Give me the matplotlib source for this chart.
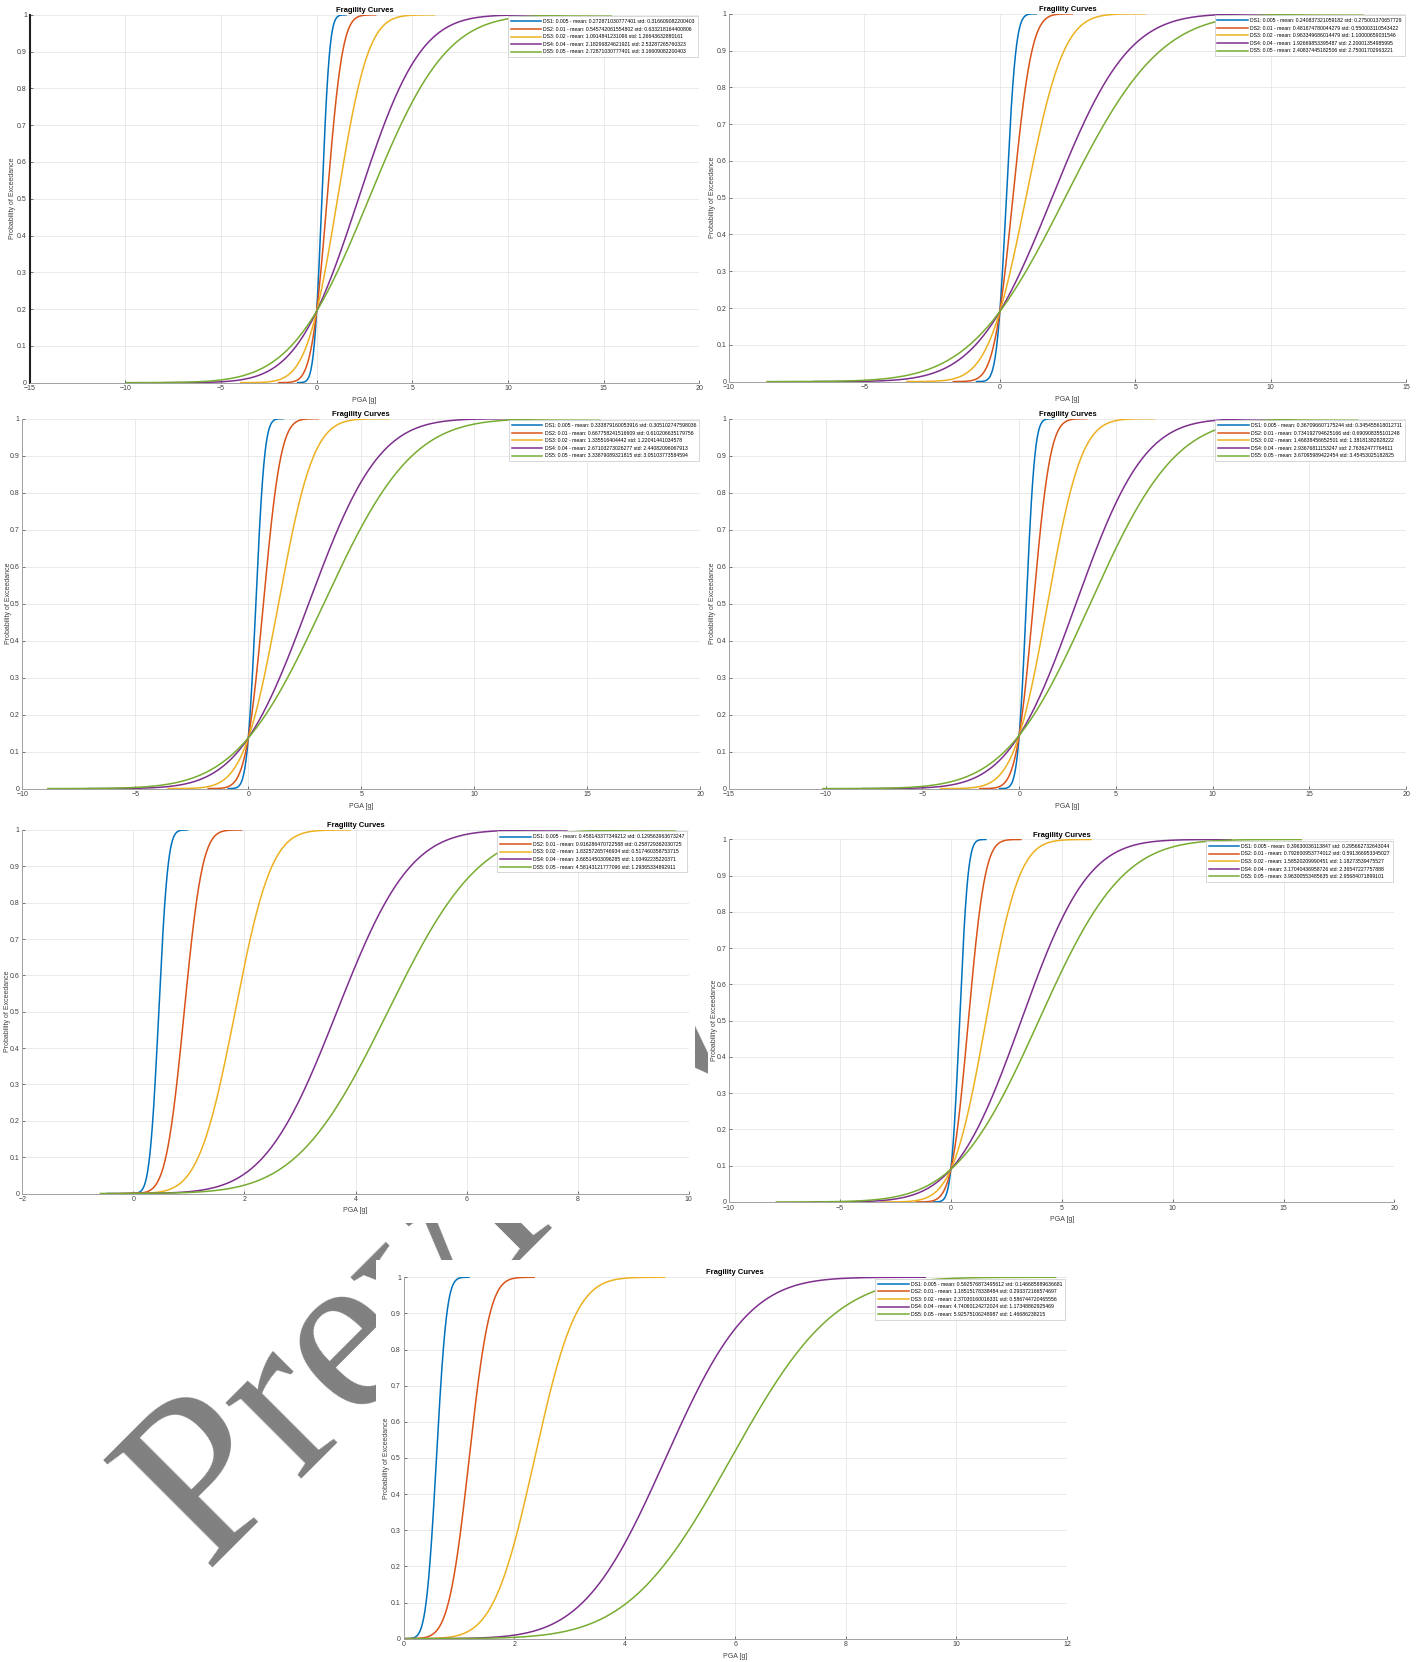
import numpy as np
import math
import matplotlib
matplotlib.use('Agg')
import matplotlib.pyplot as plt
import matplotlib.transforms as mtransforms
from matplotlib.patches import Rectangle

plt.rcParams['font.family'] = ['Liberation Sans', 'DejaVu Sans']

# -------- Data ------------------

ds_names = ['DS1: 0.005', 'DS2: 0.01', 'DS3: 0.02', 'DS4: 0.04', 'DS5: 0.05']

means_1 = ['0.272871030777401', '0.545742061554802', '1.0914841231096', '2.18296824621921', '2.72871030777401']
stds_1 = ['0.316609082200403', '0.633218164400806', '1.26643632880161', '2.53287265760323', '3.16609082200403']

means_2 = ['0.240837321059182', '0.481674780044279', '0.963349686014479', '1.92669853395487', '2.40837445182506']
stds_2 = ['0.275001370657729', '0.550003110543422', '1.10000659031546', '2.20001354985995', '2.75001702963221']

means_3 = ['0.333879160053916', '0.667758241516609', '1.335516404442', '2.67103273026277', '3.33879089321815']
stds_3 = ['0.305102747598036', '0.610206635179756', '1.22041441034578', '2.44082096067913', '3.05103773584594']

means_4 = ['0.367096607175244', '0.734192794625166', '1.46838456652501', '2.93676811153247', '3.67095989422454']
stds_4 = ['0.345455618012711', '0.690908355101248', '1.38181382828222', '2.76362477764611', '3.45453025182825']

means_5 = ['0.458143377349212', '0.916286470722588', '1.83257265746934', '3.66514503096285', '4.58143121777096']
stds_5 = ['0.129563963673247', '0.258729362030725', '0.517460358753715', '1.03492235220371', '1.29365334892911']

means_6 = ['0.39630036113847', '0.792600953774012', '1.58520209990451', '3.17040436958726', '3.96300553485635']
stds_6 = ['0.295662732643044', '0.591366953345027', '1.18273539475527', '2.36547227757888', '2.95684071899101']

means_7 = ['0.592576873495612', '1.18515178338484', '2.37030160016331', '4.74060124272024', '5.92575106248987']
stds_7 = ['0.146685889636681', '0.293372166574697', '0.586744720465556', '1.17348862925469', '1.46686238215']

# x-axis limits and ticks of each panel
xlims = [(-15, 20), (-10, 15), (-10, 20), (-15, 20), (-2, 10), (-10, 20), (0, 12)]
xsteps = [5, 5, 5, 5, 2, 5, 2]

colors = ['#0072BD', '#D95319', '#EDB120', '#7E2F8E', '#77AC30']

W, H = 1342.0, 1568.0   # layout measured on the reference in these px

# axes boxes: left, right, top, bottom
boxes = [(28, 660, 14, 361), (688, 1327, 13, 360),
         (21, 661, 395, 744), (688, 1327, 395, 744),
         (21, 650, 783, 1126), (688, 1316, 792, 1134),
         (381, 1007, 1205, 1546)]
ylab_x = [12, 672, 8, 672, 7, 674, 365]

# white screenshot areas (x0, y0, x1, y1)
sheets = [(0, 0, 666, 386), (666, 0, 1342, 386),
          (0, 386, 666, 770), (668, 386, 1342, 768),
          (0, 772, 656, 1154), (668, 780, 1342, 1160),
          (355, 1189, 1020, 1568)]

all_means = [means_1, means_2, means_3, means_4, means_5, means_6, means_7]
all_stds = [stds_1, stds_2, stds_3, stds_4, stds_5, stds_6, stds_7]

erf = np.vectorize(math.erf)
def norm_cdf(x, mu, sd):
    return 0.5 * (1 + erf((x - mu) / (sd * np.sqrt(2))))


# -------- Plot stuff ------------------

fig = plt.figure(figsize=(14.22, 16.62), dpi=100)

# watermark behind the screenshots
fig.text(204.5/1422, 1 - 1569/1662, 'Preview', fontsize=168.5, family='Liberation Serif',
         color='#808080', rotation=45, rotation_mode='anchor', ha='left', va='baseline', zorder=-2)

for (x0, y0, x1, y1) in sheets:
    fig.add_artist(Rectangle((x0/W, 1 - y1/H), (x1 - x0)/W, (y1 - y0)/H,
                             transform=fig.transFigure, facecolor='white', edgecolor='none', zorder=-1))

for i in range(7):
    l, r, t, b = boxes[i]
    ax = fig.add_axes([l/W, 1 - b/H, (r - l)/W, (b - t)/H], facecolor='white')
    for k in range(5):
        mu = float(all_means[i][k])
        sd = float(all_stds[i][k])
        x = np.linspace(mu - 4*sd, mu + 4*sd, 600)
        ax.plot(x, norm_cdf(x, mu, sd), color=colors[k], lw=1.1,
                label=ds_names[k] + ' - mean: ' + all_means[i][k] + ' std: ' + all_stds[i][k])

    ax.set_xlim(xlims[i])
    ax.set_ylim(0, 1)
    ax.set_xticks(np.arange(xlims[i][0], xlims[i][1] + 0.1, xsteps[i]))
    ax.set_yticks(np.arange(0, 1.01, 0.1))
    ax.set_yticklabels(['0', '0.1', '0.2', '0.3', '0.4', '0.5', '0.6', '0.7', '0.8', '0.9', '1'])
    ax.grid(True, color='#e6e6e6', lw=0.6)
    ax.set_axisbelow(True)
    for s in ['top', 'right']:
        ax.spines[s].set_visible(False)
    for s in ['left', 'bottom']:
        ax.spines[s].set_color('#a0a0a0')
        ax.spines[s].set_linewidth(0.7)
    if i == 0:
        ax.spines['left'].set_color('#202020')
        ax.spines['left'].set_linewidth(1.5)
    ax.tick_params(labelsize=5, colors='#404040', length=2, width=0.5, direction='in', pad=2)

    ax.set_title('Fragility Curves', fontsize=5.5, fontweight='bold', pad=2)
    ax.set_xlabel('PGA [g]', fontsize=5, color='#404040', labelpad=3)
    ax.set_ylabel('Probability of Exceedance', fontsize=5, color='#404040')
    tr = mtransforms.blended_transform_factory(fig.transFigure, ax.transAxes)
    ax.yaxis.set_label_coords((ylab_x[i] + 3.5)/W, 0.5, transform=tr)
    leg = ax.legend(loc='upper right', fontsize=3.7, handlelength=6, handletextpad=0.4,
                    labelspacing=0.5, borderpad=0.55, borderaxespad=0.3, fancybox=False,
                    framealpha=1)
    leg.get_frame().set_edgecolor('#c8c8c8')
    leg.get_frame().set_linewidth(0.5)

plt.savefig('out.png', dpi=100)
